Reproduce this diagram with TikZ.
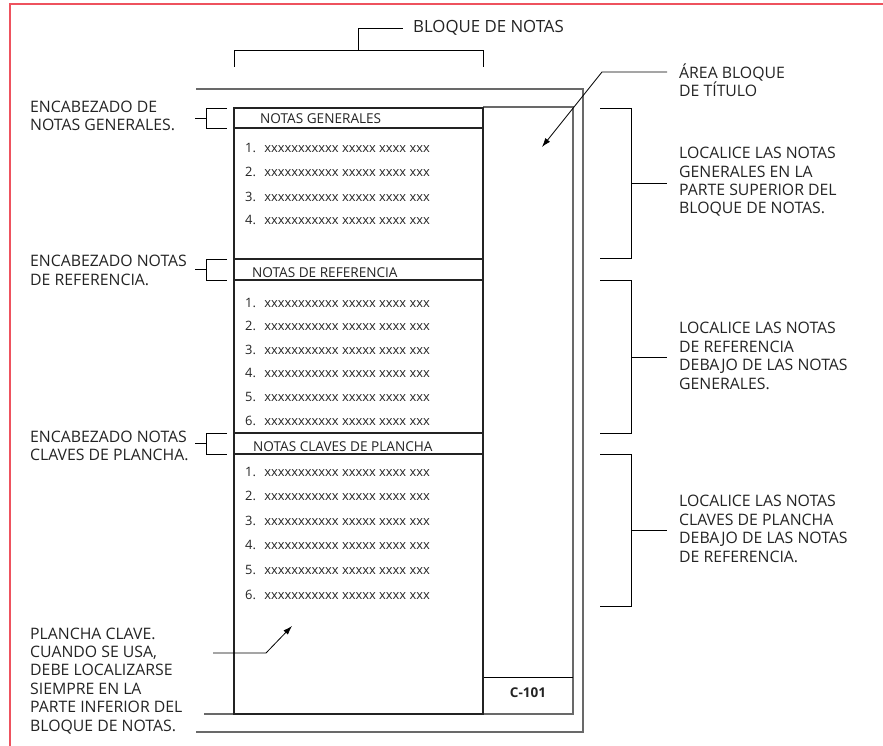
\documentclass[tikz,border=0pt]{standalone}
\usepackage{fontspec}
\setmainfont{Open Sans}
\usepackage{xcolor}
\usepackage{tikz}
\usetikzlibrary{positioning,arrows.meta}
\definecolor{borde}{RGB}{238,82,94}
\definecolor{marco}{RGB}{105,105,105}
\definecolor{tinta}{RGB}{35,35,35}

\begin{document}
\begin{tikzpicture}[x=1pt,y=-1pt,
  etiqueta/.style={font=\fontsize{15.8}{18.4}\selectfont, align=left, inner sep=0pt, anchor=base west, text=tinta},
  encabezado/.style={font=\fontsize{13.6}{16}\selectfont, inner sep=0pt, anchor=base west, text=tinta},
  nota/.style={font=\fontsize{12.9}{15}\selectfont, inner sep=0pt, anchor=base west, text=tinta},
  guia/.style={line width=0.8pt, black},
  bloque/.style={line width=1.4pt, tinta},
  marcogris/.style={line width=1.1pt, marco},
  flecha/.style={guia, -{Latex[length=9pt,width=6pt]}}]
\useasboundingbox (0,0) rectangle (883,746);
\draw[borde, line width=1.2pt] (10,746) -- (10,4) -- (883,4);

\draw[marcogris] (196,89) -- (583,89) -- (583,732) -- (196,732);
\draw[marcogris] (483,107) -- (573,107) -- (573,714) -- (204,714);
\draw[guia] (483,677) -- (573,677);
\draw[bloque] (234,108) rectangle (483,714);
\foreach \y in {128,259,280,433,454}
  \draw[bloque] (234,\y) -- (483,\y);

\node[encabezado] (cabgen) at (260,124) {NOTAS GENERALES};
\node[encabezado] (cabref) at (252,277) {NOTAS DE REFERENCIA};
\node[encabezado] (cabcla) at (253,451) {NOTAS CLAVES DE PLANCHA};
\foreach \n in {1,...,4}
  \node[nota] (gen\n) at (245,{153+24*(\n-1)}) {\n.\hspace{0.3em} xxxxxxxxxxx xxxxx xxxx xxx};
\foreach \n in {1,...,6}
  \node[nota] (ref\n) at (245,{307+23.6*(\n-1)}) {\n.\hspace{0.3em} xxxxxxxxxxx xxxxx xxxx xxx};
\foreach \n in {1,...,6}
  \node[nota] (cla\n) at (245,{476+24.6*(\n-1)}) {\n.\hspace{0.3em} xxxxxxxxxxx xxxxx xxxx xxx};
\node[font=\bfseries\fontsize{13.5}{16}\selectfont, text=tinta] (plano) at (528,693) {C-101};

\node[etiqueta, font=\fontsize{16.8}{18.4}\selectfont] (bloque) at (413,33) {BLOQUE DE NOTAS};
\node[etiqueta] (lencgen) at (30,131) {ENCABEZADO DE\\NOTAS GENERALES.};
\node[etiqueta] (lencref) at (30,285) {ENCABEZADO NOTAS\\DE REFERENCIA.};
\node[etiqueta] (lenccla) at (30,460.5) {ENCABEZADO NOTAS\\CLAVES DE PLANCHA.};
\node[etiqueta] (lplancha) at (30,731) {PLANCHA CLAVE.\\CUANDO SE USA,\\DEBE LOCALIZARSE\\SIEMPRE EN LA\\PARTE INFERIOR DEL\\BLOQUE DE NOTAS.};
\node[etiqueta] (rtitulo) at (679,96.5) {ÁREA BLOQUE\\DE TÍTULO};
\node[etiqueta] (rgen) at (679,214) {LOCALICE LAS NOTAS\\GENERALES EN LA\\PARTE SUPERIOR DEL\\BLOQUE DE NOTAS.};
\node[etiqueta] (rref) at (679,389) {LOCALICE LAS NOTAS\\DE REFERENCIA\\DEBAJO DE LAS NOTAS\\GENERALES.};
\node[etiqueta] (rcla) at (679,562) {LOCALICE LAS NOTAS\\CLAVES DE PLANCHA\\DEBAJO DE LAS NOTAS\\DE REFERENCIA.};

\draw[guia] (234,67) -- (234,50) -- (483,50) -- (483,67) (358,50) -- (358,28) -- (403,28);
\foreach \a/\b/\c in {108/118/128, 259/269.5/280, 433/443.5/454}
  \draw[guia] (195,\b) -- (206,\b) (227,\a) -- (206,\a) -- (206,\c) -- (227,\c);
\foreach \a/\b/\c in {108/183/258, 280/357/433, 454/530/606}
  \draw[guia] (600,\a) -- (631,\a) -- (631,\c) -- (600,\c) (631,\b) -- (667,\b);

\coordinate (ptitulo) at (542,147);
\draw[flecha] (667,72) -- (602,72) -- (ptitulo);
\coordinate (pplancha) at (292,626);
\draw[flecha] (213,653) -- (266,653) -- (pplancha);
\end{tikzpicture}
\end{document}
